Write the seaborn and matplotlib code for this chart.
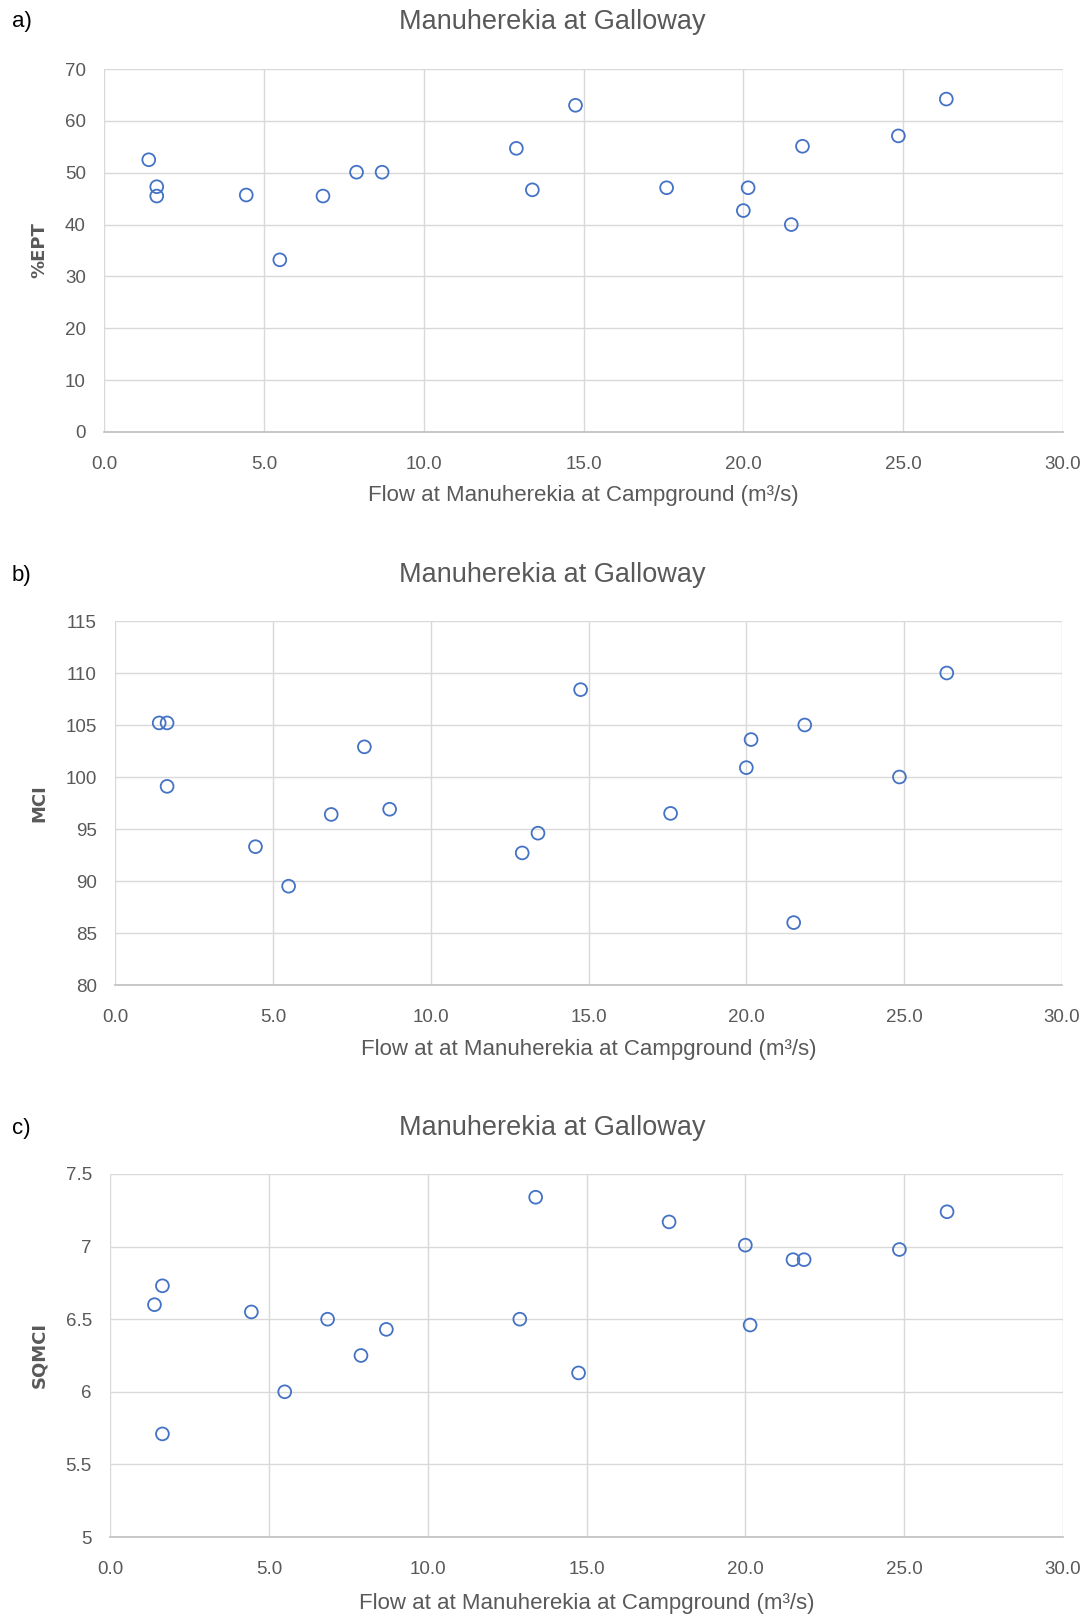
import numpy as np
import pandas as pd
import matplotlib
matplotlib.use('Agg')
import matplotlib.pyplot as plt
import seaborn as sns

# flow at Manuherekia at Campground (m3/s), one value per sampling occasion
flow = [1.4, 1.65, 1.65, 4.45, 5.5, 6.85, 7.9, 8.7, 12.9, 13.4, 14.75,
        17.6, 20.0, 20.15, 21.5, 21.85, 24.85, 26.35]

# panel a) %EPT
ept = [52.5, 47.3, 45.5, 45.7, 33.2, 45.5, 50.1, 50.1, 54.7, 46.7, 63.0,
       47.1, 42.7, 47.1, 40.0, 55.1, 57.1, 64.2]
# panel b) MCI (paired with flow order)
mci_flow = [1.4, 1.65, 1.65, 4.45, 5.5, 6.85, 7.9, 8.7, 12.9, 13.4, 14.75,
            17.6, 20.0, 20.15, 21.5, 21.85, 24.85, 26.35]
mci = [105.2, 105.2, 99.1, 93.3, 89.5, 96.4, 102.9, 96.9, 92.7, 94.6, 108.4,
       96.5, 100.9, 103.6, 86.0, 105.0, 100.0, 110.0]
# panel c) SQMCI
sqmci = [6.60, 6.73, 5.71, 6.55, 6.00, 6.50, 6.25, 6.43, 6.50, 7.34, 6.13,
         7.17, 7.01, 6.46, 6.91, 6.91, 6.98, 7.24]

x_ticks = [0, 5, 10, 15, 20, 25, 30]
ept_ticks = [0, 10, 20, 30, 40, 50, 60, 70]
mci_ticks = [80, 85, 90, 95, 100, 105, 110, 115]
sqmci_ticks = [5, 5.5, 6, 6.5, 7, 7.5]

sns.set_theme(style='white')
plt.rcParams['font.family'] = ['Liberation Sans', 'DejaVu Sans']

W, H = 1092, 1619
fig = plt.figure(figsize=(W / 100, H / 100), dpi=100)
fig.patch.set_facecolor('white')

blue = '#4472C4'
grey_txt = '#595959'
grid_c = '#D9D9D9'

panels = [
    dict(letter='a)', x=flow, y=ept, yticks=ept_ticks, ylabel='%EPT', yfmt='{:g}',
         box=(104, 69, 1063, 432), title_y=22,
         xlabel='Flow at Manuherekia at Campground (m³/s)', xlabel_y=496),
    dict(letter='b)', x=mci_flow, y=mci, yticks=mci_ticks, ylabel='MCI', yfmt='{:g}',
         box=(115, 621, 1062, 985), title_y=575,
         xlabel='Flow at at Manuherekia at Campground (m³/s)', xlabel_y=1050),
    dict(letter='c)', x=flow, y=sqmci, yticks=sqmci_ticks, ylabel='SQMCI', yfmt='{:g}',
         box=(110, 1174, 1063, 1537), title_y=1128,
         xlabel='Flow at at Manuherekia at Campground (m³/s)', xlabel_y=1603),
]

for p in panels:
    l, t, r, b = p['box']
    ax = fig.add_axes([l / W, 1 - b / H, (r - l) / W, (b - t) / H])
    df = pd.DataFrame({'flow': p['x'], 'val': p['y']})
    sns.scatterplot(data=df, x='flow', y='val', ax=ax, s=85, marker='o',
                    facecolor='none', edgecolor=blue, linewidth=1.3, zorder=3)
    ax.set_xlim(0, 30)
    ax.set_ylim(p['yticks'][0], p['yticks'][-1])
    ax.set_xticks(x_ticks)
    ax.set_xticklabels([f'{v:.1f}' for v in x_ticks])
    ax.set_yticks(p['yticks'])
    ax.set_yticklabels([p['yfmt'].format(v) for v in p['yticks']])
    ax.grid(True, color=grid_c, linewidth=1.0)
    ax.set_axisbelow(True)
    for s in ['top', 'right', 'left']:
        ax.spines[s].set_visible(False)
    ax.spines['bottom'].set_color('#BFBFBF')
    ax.spines['bottom'].set_linewidth(1.2)
    ax.tick_params(axis='both', length=0, labelsize=13.5, colors=grey_txt)
    ax.tick_params(axis='y', pad=13)
    ax.tick_params(axis='x', pad=17)
    ax.set_xlabel('')
    ax.set_ylabel('')
    for lab in ax.get_xticklabels() + ax.get_yticklabels():
        lab.set_color(grey_txt)
    # titles, letters and axis titles
    fig.text(552 / W, 1 - p['title_y'] / H, 'Manuherekia at Galloway',
             ha='center', va='center', fontsize=19.5, color=grey_txt)
    fig.text(12 / W, 1 - p['title_y'] / H, p['letter'],
             ha='left', va='center', fontsize=16, color='black')
    fig.text((l + r) / 2 / W, 1 - p['xlabel_y'] / H, p['xlabel'],
             ha='center', va='center', fontsize=16, color=grey_txt)
    fig.text(39 / W, 1 - (t + b) / 2 / H, p['ylabel'], rotation=90,
             ha='center', va='center', fontsize=13, color=grey_txt,
             fontweight='bold', family=['DejaVu Sans'])

fig.savefig('out.png', dpi=100, facecolor='white')
